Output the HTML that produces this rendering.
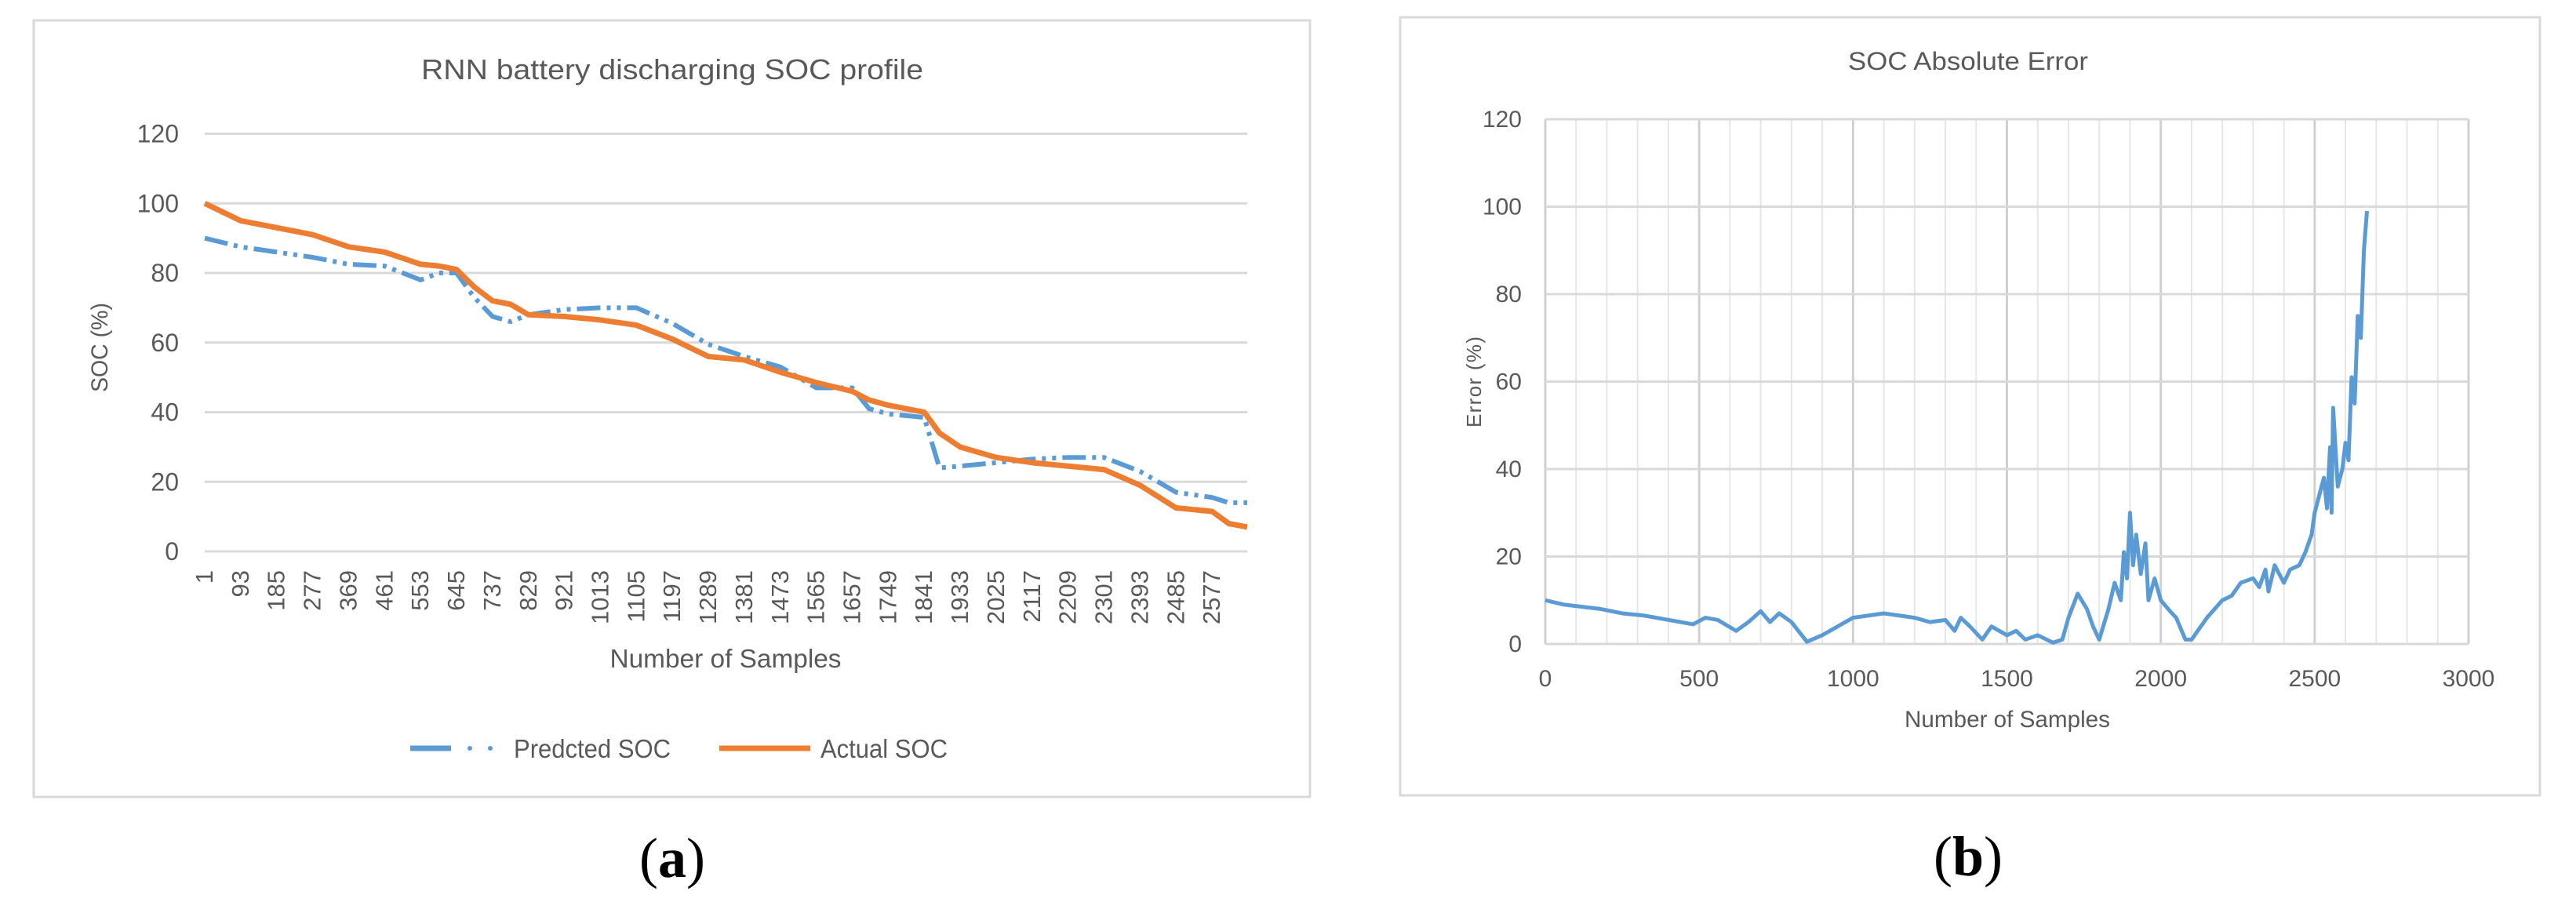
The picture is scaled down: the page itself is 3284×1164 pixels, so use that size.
<!DOCTYPE html>
<html><head><meta charset="utf-8"><style>
html,body{margin:0;padding:0;background:#fff;}
svg{display:block;font-family:"Liberation Sans",sans-serif;}
</style></head><body>
<svg id="fig" width="3284" height="1164" viewBox="0 0 3284 1164" xmlns="http://www.w3.org/2000/svg">
<rect width="3284" height="1164" fill="#fff"/>
<rect x="43" y="26" width="1627" height="990" fill="#fff" stroke="#d9d9d9" stroke-width="3"/>
<rect x="1785" y="22" width="1453" height="992" fill="#fff" stroke="#d9d9d9" stroke-width="3"/>
<text x="857" y="101" font-size="36" fill="#595959" text-anchor="middle" textLength="640" lengthAdjust="spacingAndGlyphs">RNN battery discharging SOC profile</text>
<text x="2509" y="89" font-size="32" fill="#595959" text-anchor="middle" textLength="306" lengthAdjust="spacingAndGlyphs">SOC Absolute Error</text>
<g id="ga"></g>
<g id="gb"></g>
<text transform="translate(137,443) rotate(-90)" font-size="30" fill="#595959" text-anchor="middle" textLength="114" lengthAdjust="spacingAndGlyphs">SOC (%)</text>
<text x="925" y="851" font-size="33" fill="#595959" text-anchor="middle" textLength="295" lengthAdjust="spacingAndGlyphs">Number of Samples</text>
<text transform="translate(1888,487) rotate(-90)" font-size="26" fill="#595959" text-anchor="middle" textLength="116" lengthAdjust="spacing">Error (%)</text>
<text x="2559" y="927" font-size="30" fill="#595959" text-anchor="middle" textLength="262" lengthAdjust="spacingAndGlyphs">Number of Samples</text>
<g>
<line x1="523" y1="954" x2="575" y2="954" stroke="#5b9bd5" stroke-width="7"/>
<circle cx="599" cy="954" r="3" fill="#5b9bd5"/><circle cx="625" cy="954" r="3" fill="#5b9bd5"/>
<text x="655" y="966" font-size="33" fill="#595959" textLength="200" lengthAdjust="spacingAndGlyphs">Predcted SOC</text>
</g>
<g>
<line x1="917" y1="954" x2="1033" y2="954" stroke="#ed7d31" stroke-width="7"/>
<text x="1046" y="966" font-size="33" fill="#595959" textLength="162" lengthAdjust="spacingAndGlyphs">Actual SOC</text>
</g>
<text x="857" y="1118" font-family="Liberation Serif, serif" font-size="72" fill="#000" text-anchor="middle">(<tspan font-weight="bold">a</tspan>)</text>
<text x="2509" y="1116" font-family="Liberation Serif, serif" font-size="72" fill="#000" text-anchor="middle">(<tspan font-weight="bold">b</tspan>)</text>
</svg>
<script>
const aSamples=[1,93,185,277,369,461,553,600,645,690,737,783,829,921,1013,1105,1197,1289,1381,1473,1565,1657,1700,1749,1841,1880,1933,2025,2117,2209,2301,2393,2485,2577,2620,2667];
const aActual=[100,95,93,91,87.5,86,82.5,82,81,76,72,71,68,67.5,66.5,65,61,56,55,51.5,48.5,46,43.5,42,40,34,30,27,25.5,24.5,23.5,19,12.5,11.5,8,7];
const aPred=[90,87.5,86,84.5,82.5,82,78,80,80,73,67.5,66,68,69.5,70,70,65.5,59.5,56,53,47,47,41,39.5,38.5,24,24.5,25.5,26.5,27,27,23,17,15.5,14,14];
const aYTicks=[0,20,40,60,80,100,120];
const aXTickStep=92;
const bX=[0,60,120,180,250,320,400,480,520,560,620,660,700,730,760,800,850,900,950,1000,1050,1100,1150,1200,1250,1300,1330,1350,1380,1420,1450,1500,1530,1560,1600,1650,1680,1700,1730,1760,1780,1800,1830,1850,1870,1880,1890,1900,1910,1920,1935,1950,1960,1980,2000,2030,2050,2080,2100,2130,2150,2200,2230,2260,2300,2320,2340,2350,2370,2400,2420,2450,2470,2490,2500,2515,2530,2540,2550,2555,2560,2575,2590,2600,2610,2620,2630,2640,2650,2660,2670];
const bErr=[10,9,8.5,8,7,6.5,5.5,4.5,6,5.5,3,5,7.5,5,7,5,0.5,2,4,6,6.5,7,6.5,6,5,5.5,3,6,4,1,4,2,3,1,2,0.3,1,6,11.5,8,4,1,8,14,10,21,15,30,18,25,16,23,10,15,10,7.5,6,1,1,4,6,10,11,14,15,13,17,12,18,14,17,18,21,25,30,34,38,31,45,30,54,36,40,46,42,61,55,75,70,90,99];
const bXTicks=[0,500,1000,1500,2000,2500,3000];
const bYTicks=[0,20,40,60,80,100,120];
const NS="http://www.w3.org/2000/svg";
function mk(parent,tag,attrs){const e=document.createElementNS(NS,tag);for(const k in attrs)e.setAttribute(k,attrs[k]);parent.appendChild(e);return e;}
// Chart A
const ga=document.getElementById('ga');
const ax=s=>261+(s-1)/(2667-1)*(1590-261);
const ay=v=>703-v/120*(703-170.5);
aYTicks.forEach(t=>{
  const l=mk(ga,'line',{x1:261,x2:1590,y1:ay(t),y2:ay(t),stroke:'#d9d9d9','stroke-width':3});
  
  
  const tx=mk(ga,'text',{x:228,y:ay(t)+11,'font-size':32,fill:'#595959','text-anchor':'end'});
  tx.textContent=t;
  
  
});
for(let s=1;s<=2667;s+=aXTickStep){
  const x=ax(s)+10;
  const tx=mk(ga,'text',{transform:`translate(${x},727) rotate(-90)`,'font-size':31,fill:'#595959','text-anchor':'end'});
  tx.textContent=s;
  
  
}
const pp=mk(ga,'polyline',{points:aSamples.map((s,i)=>ax(s)+','+ay(aPred[i])).join(' '),fill:'none',stroke:'#5b9bd5','stroke-width':6,'stroke-dasharray':'30 8 5 8 5 8'});


const pa=mk(ga,'polyline',{points:aSamples.map((s,i)=>ax(s)+','+ay(aActual[i])).join(' '),fill:'none',stroke:'#ed7d31','stroke-width':7,'stroke-linejoin':'round'});


// Chart B
const gb=document.getElementById('gb');
const bx=v=>1970+v/3000*(3147-1970);
const by=v=>821-v/120*(821-152);
for(let v=0;v<=3000;v+=100){
  const l=mk(gb,'line',{x1:bx(v),x2:bx(v),y1:152,y2:821,stroke:v%500===0?'#d0d0d0':'#e6e6e6','stroke-width':v%500===0?3:2});
  
  
}
bYTicks.forEach(t=>{
  const l=mk(gb,'line',{x1:1970,x2:3147,y1:by(t),y2:by(t),stroke:'#d9d9d9','stroke-width':3});
  
  
  const tx=mk(gb,'text',{x:1940,y:by(t)+10,'font-size':30,fill:'#595959','text-anchor':'end'});
  tx.textContent=t;
  
  
});
bXTicks.forEach(t=>{
  const tx=mk(gb,'text',{x:bx(t),y:875,'font-size':30,fill:'#595959','text-anchor':'middle'});
  tx.textContent=t;
  
  
});
const pe=mk(gb,'polyline',{points:bX.map((s,i)=>bx(s)+','+by(bErr[i])).join(' '),fill:'none',stroke:'#5b9bd5','stroke-width':5,'stroke-linejoin':'round'});


</script>
</body></html>
